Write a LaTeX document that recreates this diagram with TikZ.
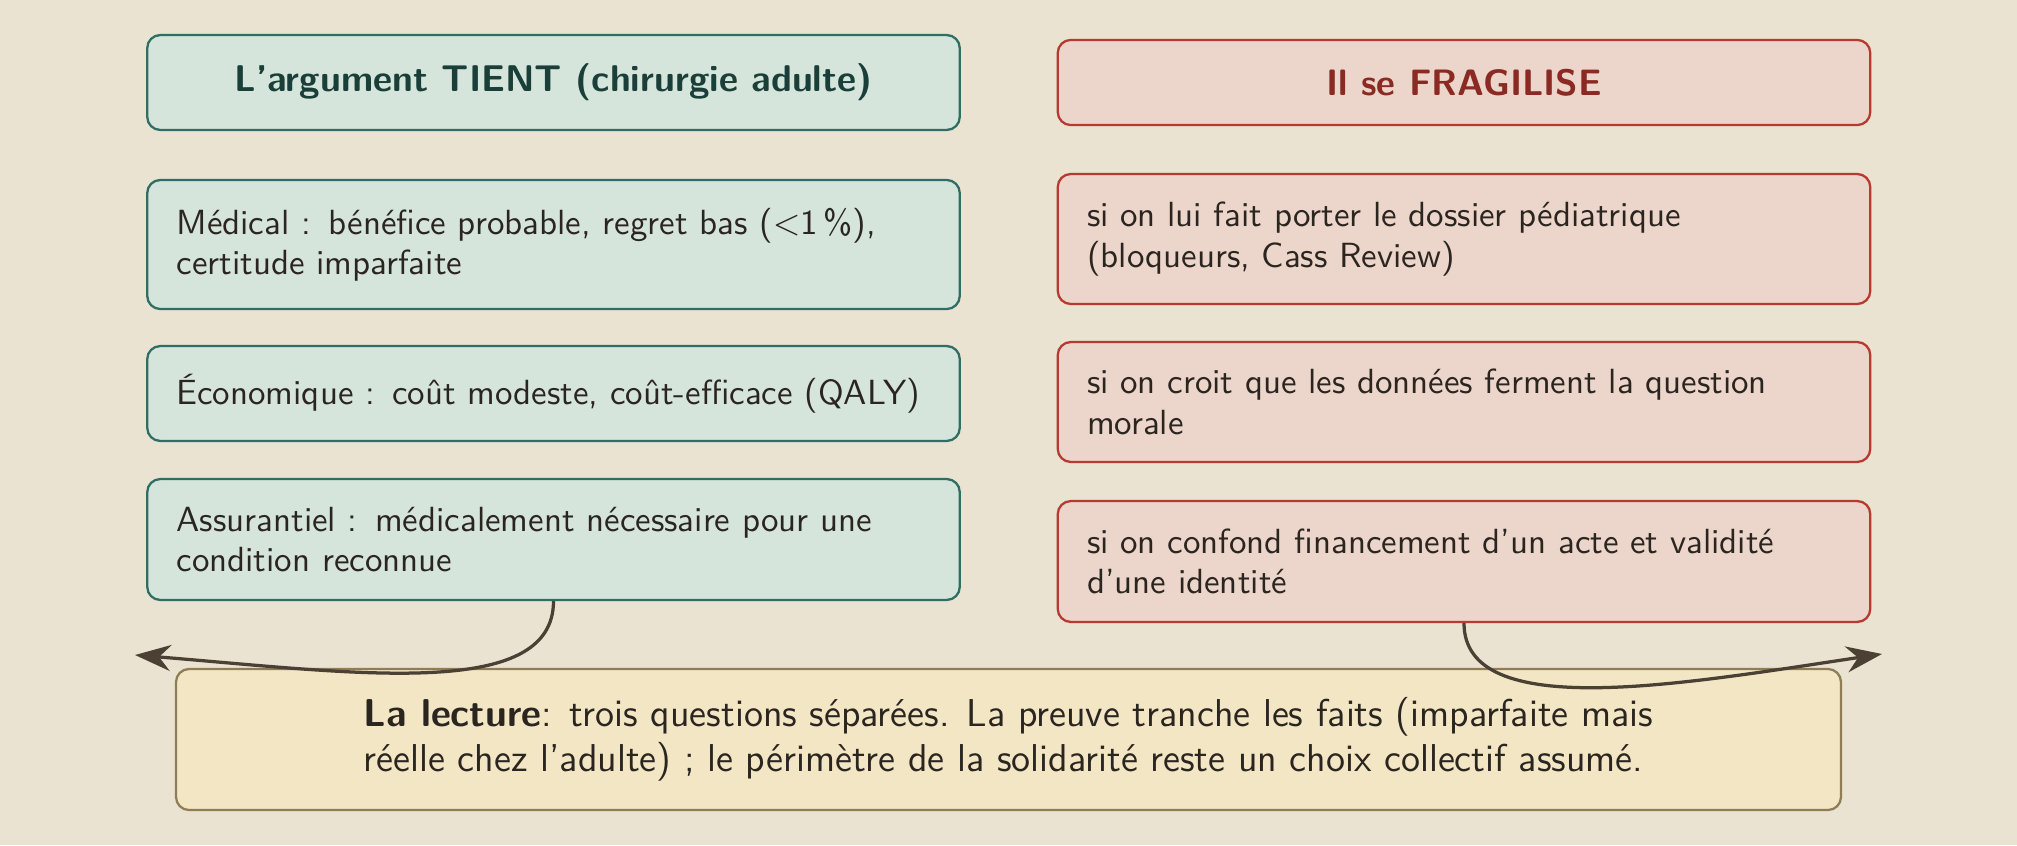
\documentclass[tikz,border=0pt]{standalone}
\usepackage{fontspec}
\usetikzlibrary{arrows.meta}
\definecolor{bg}{HTML}{EAE3D1}
\definecolor{lfill}{HTML}{D5E5DC}
\definecolor{ldraw}{HTML}{2E6E64}
\definecolor{ltext}{HTML}{1A3F38}
\definecolor{rfill}{HTML}{ECD5CA}
\definecolor{rdraw}{HTML}{B73A30}
\definecolor{rtext}{HTML}{8A2A22}
\definecolor{lecfill}{HTML}{F2E6C5}
\definecolor{lecdraw}{HTML}{8F7D56}
\definecolor{arr}{HTML}{4A4034}
\definecolor{txt}{HTML}{2B2520}
\begin{document}
\begin{tikzpicture}[x=0.3077pt,y=-0.3077pt,
  every node/.style={font=\sffamily\fontsize{10.75}{12.4}\selectfont, text=txt},
  base/.style={rectangle, rounded corners=4pt, line width=0.7pt, inner ysep=0pt, inner xsep=9pt},
  lbox/.style={base, fill=lfill, draw=ldraw, text width=232pt, align=left},
  rbox/.style={base, fill=rfill, draw=rdraw, text width=232pt, align=left},
  ltitle/.style={base, fill=lfill, draw=ldraw, minimum width=250pt, align=center, font=\sffamily\fontsize{11.45}{12.4}\selectfont\bfseries, text=ltext},
  rtitle/.style={base, fill=rfill, draw=rdraw, minimum width=250pt, align=center, font=\sffamily\fontsize{11.3}{12.4}\selectfont\bfseries, text=rtext},
  lecbox/.style={base, fill=lecfill, draw=lecdraw, align=left, minimum width=512.3pt, minimum height=43.4pt, font=\sffamily\fontsize{11.95}{13.8}\selectfont},
  conn/.style={draw=arr, line width=1pt, -{Stealth[length=11pt,width=8pt]}}
]
\fill[bg] (0,0) rectangle (2017,845);
\useasboundingbox (0,0) rectangle (2017,845);

\node[ltitle, minimum height=29.2pt] (lt) at (553.5,82.5) {L’argument TIENT (chirurgie adulte)};
\node[lbox, minimum height=39.7pt] (l1) at (553.5,244.5) {Médical : bénéfice probable, regret bas ($<$1\,\%),\\certitude imparfaite};
\node[lbox, minimum height=29.2pt] (l2) at (553.5,393.5) {Économique : coût modeste, coût-efficace (QALY)};
\node[lbox, minimum height=37.2pt] (l3) at (553.5,539.5) {Assurantiel : médicalement nécessaire pour une\\condition reconnue};

\node[rtitle, minimum height=26.2pt] (rt) at (1464,82.5) {Il se FRAGILISE};
\node[rbox, minimum height=40pt] (r1) at (1464,239) {si on lui fait porter le dossier pédiatrique\\(bloqueurs, Cass Review)};
\node[rbox, minimum height=36.9pt] (r2) at (1464,402) {si on croit que les données ferment la question\\morale};
\node[rbox, minimum height=37.2pt] (r3) at (1464,561.5) {si on confond financement d’un acte et validité\\d’une identité};

\node[lecbox] (lec) at (1008.5,739.5) {\textbf{La lecture}: trois questions séparées. La preuve tranche les faits (imparfaite mais\\réelle chez l’adulte) ; le périmètre de la solidarité reste un choix collectif assumé.};

\coordinate (ltip) at (135,655);
\coordinate (rtip) at (1882,654);
\draw[conn] (l3.south) .. controls +(0,100) and +(220,18) .. (ltip);
\draw[conn] (r3.south) .. controls +(0,100) and +(-200,30) .. (rtip);
\end{tikzpicture}
\end{document}
